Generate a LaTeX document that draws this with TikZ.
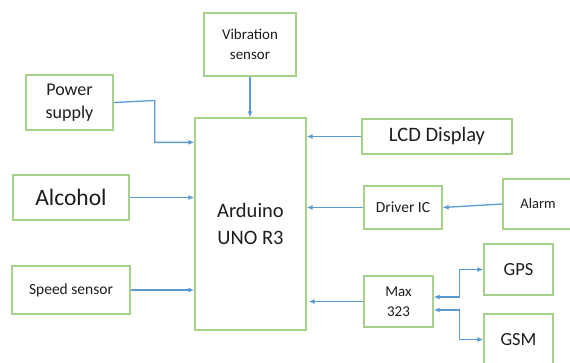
\documentclass[tikz,border=0pt]{standalone}
\usepackage{fontspec}
\setmainfont{Carlito}
\usepackage{tikz}
\usetikzlibrary{arrows.meta,positioning,calc}
\definecolor{boxgreen}{RGB}{168, 208, 141}
\definecolor{linkblue}{RGB}{91, 155, 213}
\definecolor{textgray}{RGB}{30, 30, 30}

\newcommand{\fsz}[1]{\fontsize{#1}{1.3\dimexpr#1pt\relax}\selectfont}

\begin{document}
\begin{tikzpicture}[x=1pt, y=-1pt,
    blk/.style={draw=boxgreen, line width=1.3pt, fill=white, align=center, inner sep=0pt, text=textgray},
    link/.style={linkblue, line width=1.3pt, -{Latex[length=6pt,width=5pt]}},
    dlink/.style={linkblue, line width=1.3pt, {Latex[length=6pt,width=5pt]}-{Latex[length=6pt,width=5pt]}}]
    \useasboundingbox (0,0) rectangle (570,362);

    % Controller
    \node[blk, minimum width=111pt, minimum height=212pt, font=\fsz{20.5}] (ard) at (250.5, 224) {Arduino\\UNO R3};

    % Inputs on the left
    \node[blk, minimum width=92pt, minimum height=63pt, font=\fsz{15}] (vib) at (250, 44.5) {Vibration\\sensor};
    \node[blk, minimum width=87pt, minimum height=55pt, font=\fsz{18}] (pwr) at (69.5, 102.5) {Power\\supply};
    \node[blk, minimum width=116pt, minimum height=45pt, font=\fsz{23.5}] (alc) at (71, 197.5) {Alcohol};
    \node[blk, minimum width=118pt, minimum height=48pt, font=\fsz{15.5}] (spd) at (71, 290) {Speed sensor};

    % Right side
    \node[blk, minimum width=150pt, minimum height=35pt, font=\fsz{20.5}] (lcd) at (437, 136.5) {LCD Display};
    \node[blk, minimum width=78pt, minimum height=43pt, font=\fsz{15.5}] (drv) at (403, 207.5) {Driver IC};
    \node[blk, minimum width=70pt, minimum height=50pt, font=\fsz{14.5}] (alm) at (538, 204) {Alarm};
    \node[blk, minimum width=69pt, minimum height=51pt, font=\fsz{15}] (max) at (398.5, 301.5) {Max\\323};
    \node[blk, minimum width=69pt, minimum height=51pt, font=\fsz{18.5}] (gps) at (518.5, 269.5) {GPS};
    \node[blk, minimum width=69pt, minimum height=51pt, font=\fsz{18.5}] (gsm) at (518.5, 339.5) {GSM};

    % Connectors
    \draw[link] (vib.south) -- (vib.south |- ard.north);
    \draw[link] (pwr.east) -- ++(41,-2) -- ++(0,2) |- ([yshift=-25pt]ard.north west);
    \draw[link] (alc.east) -- (alc.east -| ard.west);
    \draw[link] (spd.east) -- (spd.east -| ard.west);
    \draw[link] (lcd.west) -- (lcd.west -| ard.east);
    \draw[link] (drv.west) -- (drv.west -| ard.east);
    \draw[link] (alm.west) -- (drv.east);
    \draw[link, shorten >=2pt] (max.west) -- (max.west -| ard.east);
    \draw[dlink] ([yshift=4.5pt]max.east) -- ++(26,0) |- (gps.west);
    \draw[dlink] ([yshift=-8.5pt]max.east) -- ++(26,0) |- (gsm.west);
\end{tikzpicture}
\end{document}
